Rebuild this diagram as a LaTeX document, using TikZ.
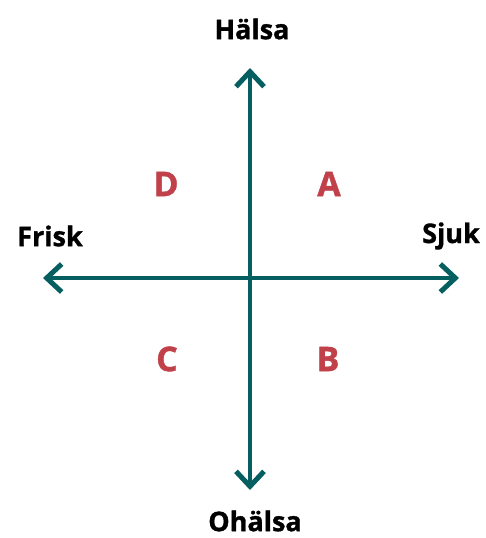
\documentclass[tikz,border=0pt]{standalone}
\usepackage{fontspec}
\setmainfont{Open Sans}[BoldFeatures={FakeBold=1.2}]
\usetikzlibrary{arrows.meta}
\definecolor{axis}{HTML}{055E60}
\definecolor{quad}{HTML}{C0414A}
\begin{document}
\begin{tikzpicture}[x=1pt,y=-1pt,
  axisline/.style={draw=axis,line width=4.5pt,-{Straight Barb[length=15pt,width=28pt,line width=5pt]},shorten >=-2pt},
  axislabel/.style={font=\bfseries\fontsize{27}{31}\selectfont,text=black,inner sep=0pt},
  quadlabel/.style={font=\bfseries\fontsize{34}{38}\selectfont,text=quad,inner sep=0pt}]
\useasboundingbox (0,0) rectangle (486,538);
\coordinate (c) at (250,278);
\coordinate (top) at (250,70);
\coordinate (bot) at (250,488);
\coordinate (lft) at (45,278);
\coordinate (rgt) at (457,278);
\draw[axisline] (c) -- (top);
\draw[axisline] (c) -- (bot);
\draw[axisline] (c) -- (lft);
\draw[axisline] (c) -- (rgt);
\node[axislabel] (halsa) at (252,29) {Hälsa};
\node[axislabel] (ohalsa) at (255,521) {Ohälsa};
\node[axislabel] (frisk) at (50,236) {Frisk};
\node[axislabel] (sjuk) at (451,236) {Sjuk};
\node[quadlabel] (A) at (329,184) {A};
\node[quadlabel] (D) at (166,184) {D};
\node[quadlabel] (C) at (167,359) {C};
\node[quadlabel] (B) at (328,359) {B};
\end{tikzpicture}
\end{document}
